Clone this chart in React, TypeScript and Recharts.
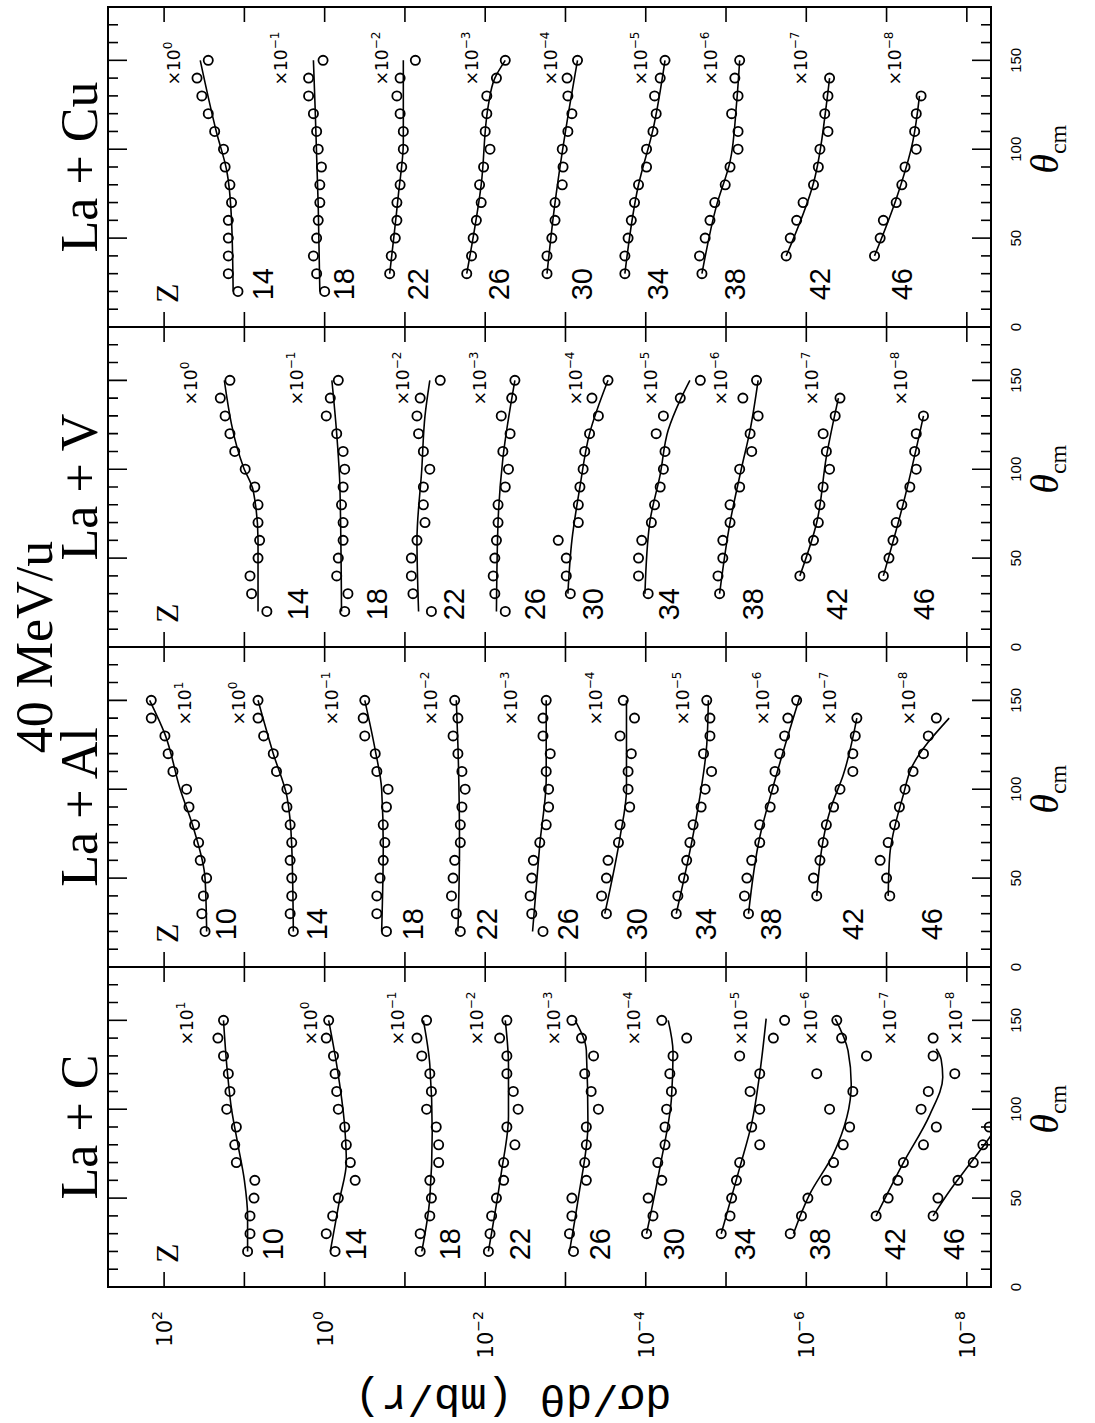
import React from 'react';
import { ComposedChart, Line, Scatter, XAxis, YAxis, ReferenceArea } from 'recharts';

// ---------------- data ----------------
// angles (theta_cm, degrees) at which the data points sit
const T20 = [20, 30, 40, 50, 60, 70, 80, 90, 100, 110, 120, 130, 140, 150];
const T30 = [30, 40, 50, 60, 70, 80, 90, 100, 110, 120, 130, 140, 150];
const T40_140 = [40, 50, 60, 70, 80, 90, 100, 110, 120, 130, 140];
const T40_130 = [40, 50, 60, 70, 80, 90, 100, 110, 120, 130];
const T40_90 = [40, 50, 60, 70, 80, 90];

// values are log10 of the plotted d(sigma)/d(theta) (already multiplied by the x10^n factor)

// ---- La + C ----
const C_Z = [10, 14, 18, 22, 26, 30, 34, 38, 42, 46];
const C_SCALE = [1, 0, -1, -2, -3, -4, -5, -6, -7, -8];
const C_THETA = [T20, T20, T20, T20, T20, T30, T30, T30, T40_140, T40_90];
const C_LOG = [
  [0.96, 0.93, 0.93, 0.88, 0.87, 1.10, 1.12, 1.10, 1.22, 1.18, 1.20, 1.26, 1.33, 1.26],
  [-0.13, -0.02, -0.10, -0.17, -0.38, -0.32, -0.27, -0.25, -0.17, -0.15, -0.13, -0.11, -0.02, -0.05],
  [-1.19, -1.19, -1.31, -1.33, -1.31, -1.42, -1.42, -1.39, -1.27, -1.33, -1.31, -1.21, -1.15, -1.27],
  [-2.04, -2.06, -2.08, -2.14, -2.23, -2.23, -2.37, -2.27, -2.41, -2.35, -2.27, -2.27, -2.18, -2.27],
  [-3.10, -3.05, -3.08, -3.08, -3.26, -3.24, -3.26, -3.26, -3.41, -3.32, -3.24, -3.35, -3.20, -3.08],
  [-4.01, -4.09, -4.03, -4.20, -4.15, -4.24, -4.24, -4.26, -4.32, -4.30, -4.34, -4.51, -4.20],
  [-4.94, -5.05, -5.07, -5.13, -5.17, -5.42, -5.32, -5.42, -5.30, -5.42, -5.17, -5.59, -5.73],
  [-5.80, -5.94, -6.02, -6.25, -6.34, -6.46, -6.54, -6.29, -6.58, -6.13, -6.75, -6.44, -6.38],
  [-6.87, -7.02, -7.14, -7.21, -7.46, -7.62, -7.43, -7.52, -7.85, -7.58, -7.58],
  [-7.58, -7.64, -7.89, -8.08, -8.20, -8.28],
];
const C_FIT = [
  [[20, 0.96], [40, 0.96], [60, 1.0], [80, 1.08], [100, 1.16], [120, 1.21], [150, 1.26]],
  [[20, -0.07], [50, -0.19], [70, -0.27], [90, -0.25], [125, -0.15], [150, -0.05]],
  [[20, -1.21], [50, -1.31], [87, -1.34], [125, -1.31], [150, -1.23]],
  [[20, -2.04], [64, -2.20], [96, -2.29], [125, -2.29], [150, -2.25]],
  [[20, -3.05], [50, -3.16], [92, -3.28], [133, -3.26], [150, -3.12]],
  [[30, -4.01], [68, -4.18], [106, -4.32], [132, -4.34], [150, -4.28]],
  [[30, -4.94], [67, -5.17], [92, -5.32], [120, -5.42], [151, -5.50]],
  [[30, -5.84], [52, -6.04], [75, -6.34], [114, -6.56], [133, -6.52], [151, -6.36]],
  [[40, -6.87], [70, -7.21], [97, -7.54], [118, -7.70], [128, -7.68], [134, -7.62]],
  [[40, -7.58], [55, -7.80], [70, -8.05], [82, -8.25], [92, -8.40]],
];

// ---- La + Al ----
const A_Z = [10, 14, 18, 22, 26, 30, 34, 38, 42, 46];
const A_SCALE = [1, 0, -1, -2, -3, -4, -5, -6, -7, -8];
const A_THETA = [T20, T20, T20, T20, T20, T30, T30, T30, T40_140, T40_140];
const A_LOG = [
  [1.49, 1.53, 1.51, 1.47, 1.55, 1.57, 1.62, 1.69, 1.72, 1.89, 1.95, 1.99, 2.16, 2.16],
  [0.39, 0.43, 0.41, 0.41, 0.43, 0.41, 0.43, 0.47, 0.47, 0.60, 0.64, 0.76, 0.83, 0.83],
  [-0.77, -0.65, -0.65, -0.69, -0.73, -0.75, -0.73, -0.77, -0.79, -0.65, -0.63, -0.50, -0.48, -0.50],
  [-1.69, -1.64, -1.58, -1.60, -1.62, -1.69, -1.69, -1.71, -1.75, -1.71, -1.66, -1.60, -1.66, -1.62],
  [-2.72, -2.58, -2.56, -2.58, -2.60, -2.68, -2.76, -2.79, -2.79, -2.76, -2.81, -2.72, -2.72, -2.76],
  [-3.51, -3.45, -3.51, -3.53, -3.66, -3.68, -3.80, -3.78, -3.78, -3.82, -3.68, -3.86, -3.72],
  [-4.38, -4.40, -4.47, -4.51, -4.55, -4.59, -4.69, -4.74, -4.82, -4.72, -4.80, -4.80, -4.76],
  [-5.28, -5.23, -5.26, -5.32, -5.42, -5.42, -5.55, -5.59, -5.61, -5.67, -5.73, -5.77, -5.88],
  [-6.13, -6.09, -6.17, -6.21, -6.25, -6.34, -6.42, -6.58, -6.58, -6.61, -6.63],
  [-7.04, -7.00, -6.92, -7.02, -7.10, -7.16, -7.23, -7.33, -7.46, -7.52, -7.62],
];
const A_FIT = [
  [[20, 1.47], [50, 1.49], [79, 1.64], [100, 1.80], [131, 1.99], [150, 2.18]],
  [[20, 0.39], [68, 0.41], [96, 0.47], [120, 0.64], [150, 0.83]],
  [[20, -0.71], [68, -0.73], [100, -0.71], [122, -0.63], [150, -0.50]],
  [[20, -1.66], [68, -1.68], [125, -1.66], [150, -1.64]],
  [[20, -2.59], [69, -2.68], [106, -2.76], [150, -2.76]],
  [[30, -3.49], [73, -3.68], [100, -3.76], [150, -3.76]],
  [[30, -4.38], [84, -4.63], [125, -4.76], [150, -4.78]],
  [[30, -5.28], [73, -5.42], [102, -5.59], [152, -5.92]],
  [[40, -6.13], [90, -6.31], [108, -6.46], [140, -6.63]],
  [[40, -7.02], [63, -7.04], [97, -7.21], [112, -7.31], [140, -7.78]],
];

// ---- La + V ----
const V_Z = [14, 18, 22, 26, 30, 34, 38, 42, 46];
const V_SCALE = [0, -1, -2, -3, -4, -5, -6, -7, -8];
const V_THETA = [T20, T20, T20, T20, T30, T30, T30, T40_140, T40_130];
const V_LOG = [
  [0.72, 0.91, 0.93, 0.83, 0.81, 0.83, 0.83, 0.87, 0.99, 1.12, 1.18, 1.24, 1.30, 1.18],
  [-0.25, -0.29, -0.15, -0.17, -0.23, -0.23, -0.21, -0.23, -0.25, -0.23, -0.15, -0.02, -0.07, -0.17],
  [-1.33, -1.10, -1.08, -1.08, -1.15, -1.25, -1.23, -1.23, -1.31, -1.23, -1.17, -1.15, -1.19, -1.44],
  [-2.25, -2.12, -2.10, -2.12, -2.14, -2.16, -2.16, -2.25, -2.29, -2.22, -2.31, -2.20, -2.33, -2.37],
  [-3.06, -3.01, -3.01, -2.91, -3.16, -3.16, -3.18, -3.22, -3.24, -3.30, -3.41, -3.33, -3.53],
  [-4.03, -3.91, -3.91, -3.95, -4.07, -4.11, -4.18, -4.22, -4.24, -4.13, -4.22, -4.43, -4.68],
  [-4.92, -4.90, -4.96, -4.96, -5.05, -5.05, -5.17, -5.17, -5.32, -5.30, -5.40, -5.21, -5.38],
  [-5.92, -6.00, -6.09, -6.15, -6.17, -6.21, -6.29, -6.25, -6.21, -6.36, -6.42],
  [-6.96, -7.03, -7.08, -7.12, -7.19, -7.29, -7.37, -7.35, -7.37, -7.46],
];
const V_FIT = [
  [[20, 0.83], [60, 0.83], [88, 0.89], [101, 1.01], [150, 1.25]],
  [[20, -0.21], [90, -0.19], [120, -0.15], [150, -0.09]],
  [[20, -1.17], [60, -1.15], [100, -1.21], [130, -1.25], [150, -1.31]],
  [[20, -2.14], [70, -2.16], [106, -2.22], [150, -2.37]],
  [[30, -3.03], [60, -3.08], [90, -3.18], [120, -3.30], [150, -3.53]],
  [[30, -3.99], [70, -4.05], [97, -4.18], [122, -4.28], [139, -4.43], [150, -4.55]],
  [[30, -4.92], [70, -5.05], [100, -5.19], [122, -5.30], [150, -5.40]],
  [[40, -5.92], [70, -6.13], [107, -6.25], [140, -6.40]],
  [[40, -6.96], [81, -7.21], [130, -7.46]],
];

// ---- La + Cu ----
const U_Z = [14, 18, 22, 26, 30, 34, 38, 42, 46];
const U_SCALE = [0, -1, -2, -3, -4, -5, -6, -7, -8];
const U_THETA = [T20, T20, T30, T30, T30, T30, T30, T40_140, T40_130];
const U_LOG = [
  [1.08, 1.20, 1.20, 1.20, 1.20, 1.16, 1.18, 1.24, 1.26, 1.37, 1.45, 1.53, 1.59, 1.45],
  [0.00, 0.10, 0.14, 0.10, 0.08, 0.06, 0.06, 0.04, 0.08, 0.10, 0.14, 0.20, 0.20, 0.02],
  [-0.81, -0.83, -0.88, -0.90, -0.90, -0.94, -0.96, -0.98, -0.98, -0.94, -0.90, -0.94, -1.13],
  [-1.77, -1.83, -1.85, -1.89, -1.95, -1.93, -1.98, -2.06, -2.00, -2.02, -2.02, -2.14, -2.25],
  [-2.77, -2.77, -2.83, -2.87, -2.87, -2.96, -2.97, -2.96, -3.03, -3.08, -3.03, -3.02, -3.15],
  [-3.74, -3.74, -3.78, -3.82, -3.86, -3.91, -4.01, -4.01, -4.09, -4.13, -4.11, -4.18, -4.24],
  [-4.70, -4.67, -4.74, -4.80, -4.86, -4.99, -5.05, -5.15, -5.15, -5.07, -5.15, -5.11, -5.17],
  [-5.75, -5.80, -5.88, -5.96, -6.09, -6.15, -6.17, -6.27, -6.23, -6.27, -6.29],
  [-6.85, -6.92, -6.96, -7.12, -7.19, -7.23, -7.37, -7.35, -7.37, -7.43],
];
const U_FIT = [
  [[20, 1.14], [60, 1.16], [88, 1.22], [110, 1.35], [150, 1.55]],
  [[20, 0.06], [68, 0.08], [125, 0.12], [150, 0.14]],
  [[30, -0.81], [75, -0.92], [104, -0.98], [150, -0.98]],
  [[30, -1.77], [80, -1.95], [125, -2.04], [140, -2.12], [150, -2.25]],
  [[30, -2.77], [70, -2.87], [110, -3.00], [150, -3.15]],
  [[30, -3.74], [80, -3.91], [111, -4.09], [150, -4.24]],
  [[30, -4.70], [68, -4.88], [93, -5.05], [125, -5.13], [150, -5.17]],
  [[40, -5.75], [81, -6.09], [125, -6.25], [140, -6.29]],
  [[40, -6.85], [72, -7.12], [105, -7.33], [130, -7.41]],
];

// label anchors (log10 of the value where each Z number / scale factor text sits)
const C_ZLABEL_AT = [0.65, -0.39, -1.56, -2.43, -3.43, -4.34, -5.23, -6.17, -7.10, -7.83];
const C_SCALE_AT = [1.71, 0.17, -0.91, -1.90, -2.86, -3.85, -5.19, -6.06, -7.04, -7.86];
const A_ZLABEL_AT = [1.23, 0.10, -1.09, -2.02, -3.02, -3.88, -4.74, -5.55, -6.58, -7.56];
const A_SCALE_AT = [1.74, 1.07, -0.09, -1.33, -2.32, -3.38, -4.47, -5.46, -6.29, -7.28];
const V_ZLABEL_AT = [0.34, -0.65, -1.60, -2.62, -3.34, -4.28, -5.33, -6.38, -7.46];
const V_SCALE_AT = [1.66, 0.34, -0.97, -1.93, -3.13, -4.06, -4.94, -6.07, -7.18];
const U_ZLABEL_AT = [0.77, -0.24, -1.16, -2.16, -3.20, -4.15, -5.10, -6.17, -7.19];
const U_SCALE_AT = [1.88, 0.54, -0.72, -1.84, -2.82, -3.94, -4.81, -5.93, -7.11];

const PANEL_TITLES = ['La + C', 'La + Al', 'La + V', 'La + Cu'];
const MAIN_TITLE = '40 MeV/u';
const Y_LABEL = 'dσ/dθ (mb/r)';
const THETA_TICKS = [0, 10, 20, 30, 40, 50, 60, 70, 80, 90, 100, 110, 120, 130, 140, 150, 160, 170, 180];
const THETA_LABELS = [0, 50, 100, 150];
const DECADE_TICKS = [1e-8, 1e-7, 1e-6, 1e-5, 1e-4, 1e-3, 1e-2, 1e-1, 1, 10, 100];
const Y_DOMAIN: [number, number] = [5e-9, 5e2];

// ---------------- layout (figure is drawn upright, then turned a quarter turn) ----------------
const FIG_W = 1423; // becomes page height
const FIG_H = 1095; // becomes page width
const PLOT_TOP = 108;
const PLOT_BOTTOM = 991;
const FIRST_LEFT = 136;
const PANEL_W = 320;
const SIDE = 30;
const Z_LABEL_THETA = 15;
const SCALE_LABEL_THETA = 136;
const Z_HEAD = { theta: 19, lg: 1.96 };
const INK = '#000';

const sup = (e: number) => (e < 0 ? `\u2212${-e}` : `${e}`);

const thetaTick = (props: any) => {
  const { x, payload } = props;
  const v = payload.value;
  const len = v % 50 === 0 ? 19 : 10;
  return (
    <g>
      <line x1={x} x2={x} y1={PLOT_BOTTOM} y2={PLOT_BOTTOM - len} stroke={INK} strokeWidth={1.6} />
      <line x1={x} x2={x} y1={PLOT_TOP} y2={PLOT_TOP + len} stroke={INK} strokeWidth={1.6} />
      {THETA_LABELS.includes(v) && (
        <text x={x} y={PLOT_BOTTOM + 30} textAnchor="middle" fontFamily="Liberation Sans" fontSize={15} fill={INK}>
          {v}
        </text>
      )}
    </g>
  );
};

const makeLogTick = (withLabel: boolean) => (props: any) => {
  const { x, y, payload } = props;
  const e = Math.round(Math.log10(payload.value));
  return (
    <g>
      <line x1={x} x2={x + 15} y1={y} y2={y} stroke={INK} strokeWidth={1.6} />
      <line x1={x + PANEL_W} x2={x + PANEL_W - 15} y1={y} y2={y} stroke={INK} strokeWidth={1.6} />
      {withLabel && e % 2 === 0 && (
        <text x={x - 24} y={y + 8} textAnchor="end" fontFamily="DejaVu Sans" fontSize={21} fill={INK}>
          10
          <tspan dy={-10} fontSize={14}>
            {sup(e)}
          </tspan>
        </text>
      )}
    </g>
  );
};
const logTickLabelled = makeLogTick(true);
const logTickPlain = makeLogTick(false);

const circleShape = (p: any) => (
  <circle cx={p.cx} cy={p.cy} r={4.6} fill="none" stroke={INK} strokeWidth={1.8} />
);
const zNumberShape = (p: any) => (
  <text x={p.cx} y={p.cy + 10.5} fontFamily="Liberation Sans" fontSize={29} fill={INK}>
    {p.payload.text}
  </text>
);
const scaleShape = (p: any) => (
  <text x={p.cx} y={p.cy + 6} fontFamily="DejaVu Sans" fontSize={17} fill={INK}>
    {'\u00d710'}
    <tspan dy={-8} fontSize={12}>
      {sup(p.payload.e)}
    </tspan>
  </text>
);
const zHeadShape = (p: any) => (
  <text x={p.cx} y={p.cy + 11} textAnchor="middle" fontFamily="Liberation Serif" fontSize={32} fill={INK}>
    Z
  </text>
);

const PANELS = [
  { z: C_Z, scale: C_SCALE, theta: C_THETA, logs: C_LOG, fits: C_FIT, zAt: C_ZLABEL_AT, sAt: C_SCALE_AT },
  { z: A_Z, scale: A_SCALE, theta: A_THETA, logs: A_LOG, fits: A_FIT, zAt: A_ZLABEL_AT, sAt: A_SCALE_AT },
  { z: V_Z, scale: V_SCALE, theta: V_THETA, logs: V_LOG, fits: V_FIT, zAt: V_ZLABEL_AT, sAt: V_SCALE_AT },
  { z: U_Z, scale: U_SCALE, theta: U_THETA, logs: U_LOG, fits: U_FIT, zAt: U_ZLABEL_AT, sAt: U_SCALE_AT },
];

function PanelChart({ panel, index }: { panel: (typeof PANELS)[number]; index: number }) {
  const first = index === 0;
  const ml = first ? FIRST_LEFT : SIDE;
  const left = first ? 0 : FIRST_LEFT + PANEL_W * index - SIDE;
  const width = ml + PANEL_W + SIDE;
  const series = panel.z.map((z, k) => ({
    z,
    points: panel.theta[k].map((t, j) => ({ theta: t, v: Math.pow(10, panel.logs[k][j]) })),
    fit: panel.fits[k].map(([t, lg]) => ({ theta: t, v: Math.pow(10, lg) })),
  }));
  const zLabels = panel.z.map((z, k) => ({ theta: Z_LABEL_THETA, v: Math.pow(10, panel.zAt[k]), text: String(z) }));
  const sLabels = panel.scale.map((e, k) => ({ theta: SCALE_LABEL_THETA, v: Math.pow(10, panel.sAt[k]), e }));
  const head = [{ theta: Z_HEAD.theta, v: Math.pow(10, Z_HEAD.lg) }];
  return (
    <div style={{ position: 'absolute', left, top: 0 }}>
      <ComposedChart
        width={width}
        height={FIG_H}
        margin={{ top: PLOT_TOP, bottom: FIG_H - PLOT_BOTTOM - 1, left: ml - 1, right: SIDE }}
      >
        <XAxis
          type="number"
          dataKey="theta"
          domain={[0, 180]}
          ticks={THETA_TICKS}
          interval={0}
          tick={thetaTick}
          tickLine={false}
          axisLine={false}
          tickSize={0}
          tickMargin={0}
          height={1}
          allowDataOverflow
        />
        <YAxis
          type="number"
          dataKey="v"
          scale="log"
          domain={Y_DOMAIN}
          ticks={DECADE_TICKS}
          interval={0}
          tick={first ? logTickLabelled : logTickPlain}
          tickLine={false}
          axisLine={false}
          tickSize={0}
          tickMargin={0}
          width={1}
          allowDataOverflow
        />
        <ReferenceArea x1={0} x2={180} y1={Y_DOMAIN[0]} y2={Y_DOMAIN[1]} fill="none" stroke={INK} strokeWidth={2} />
        {series.map((s) => (
          <Line
            key={`fit-${s.z}`}
            data={s.fit}
            dataKey="v"
            type="monotone"
            dot={false}
            activeDot={false}
            stroke={INK}
            strokeWidth={1.6}
            isAnimationActive={false}
          />
        ))}
        {series.map((s) => (
          <Scatter key={`pts-${s.z}`} data={s.points} dataKey="v" shape={circleShape} isAnimationActive={false} />
        ))}
        <Scatter data={zLabels} dataKey="v" shape={zNumberShape} isAnimationActive={false} />
        <Scatter data={sLabels} dataKey="v" shape={scaleShape} isAnimationActive={false} />
        <Scatter data={head} dataKey="v" shape={zHeadShape} isAnimationActive={false} />
      </ComposedChart>
    </div>
  );
}

export default function App() {
  const plotCenter = FIRST_LEFT + (PANEL_W * 4) / 2;
  return (
    <div style={{ position: 'absolute', left: 0, top: 0, width: FIG_H, height: FIG_W, overflow: 'hidden', background: '#fff' }}>
      <div
        style={{
          position: 'absolute',
          left: 0,
          top: 0,
          width: FIG_W,
          height: FIG_H,
          transformOrigin: '0 0',
          transform: `translateY(${FIG_W}px) rotate(-90deg)`,
        }}
      >
        {PANELS.map((p, i) => (
          <PanelChart key={i} panel={p} index={i} />
        ))}
        <svg width={FIG_W} height={FIG_H} style={{ position: 'absolute', left: 0, top: 0, pointerEvents: 'none' }}>
          <text x={plotCenter} y={52} textAnchor="middle" fontFamily="Liberation Serif" fontSize={52} fill={INK}>
            {MAIN_TITLE}
          </text>
          {PANEL_TITLES.map((t, i) => (
            <text
              key={t}
              x={FIRST_LEFT + PANEL_W * i + PANEL_W / 2}
              y={97}
              textAnchor="middle"
              fontFamily="Liberation Serif"
              fontSize={52}
              fill={INK}
            >
              {t}
            </text>
          ))}
          {PANEL_TITLES.map((t, i) => (
            <text
              key={`th-${t}`}
              x={FIRST_LEFT + PANEL_W * i + (PANEL_W * 100) / 180}
              y={1058}
              textAnchor="middle"
              fontFamily="Liberation Serif"
              fill={INK}
            >
              <tspan fontStyle="italic" fontSize={40}>
                θ
              </tspan>
              <tspan fontSize={24} dy={8}>
                cm
              </tspan>
            </text>
          ))}
          <text
            transform="translate(26, 513) rotate(-90)"
            textAnchor="middle"
            dominantBaseline="central"
            fontFamily="Liberation Mono"
            fontSize={44}
            fill={INK}
          >
            {Y_LABEL}
          </text>
        </svg>
      </div>
    </div>
  );
}
